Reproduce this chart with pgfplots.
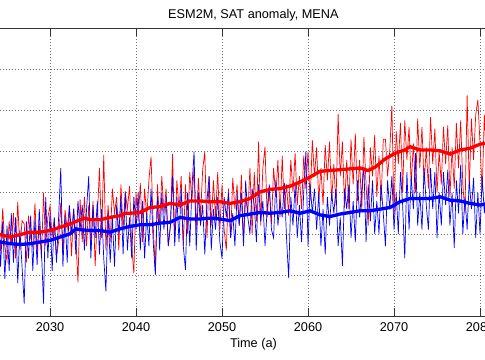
\documentclass[border=0pt]{standalone}
\usepackage{pgfplots}
\pgfplotsset{compat=1.18}
\usepackage{fontspec}
\setmainfont{Liberation Sans}
\newcommand{\lblfont}{\fontsize{12.7bp}{15bp}\selectfont}
\begin{document}
\begin{tikzpicture}
\begin{axis}[
  at={(0,0)}, anchor=south west,
  scale only axis, width=819.6bp, height=287.7bp,
  xmin=2006, xmax=2101.3, ymin=-0.5, ymax=3,
  xtick={2010,2020,...,2100}, ytick={-0.5,0,...,3},
  /pgf/number format/1000 sep={},
  /pgf/number format/assume math mode=true,
  tick align=inside, xtick pos=both, ytick pos=both, major tick length=8bp,
  tick style={black!80, line width=0.6bp},
  axis line style={black!80, line width=0.6bp},
  grid=major, major grid style={black!55, line width=0.5bp, dash pattern=on 0.8bp off 2.2bp},
  every axis title/.style={at={(0.5,1)}, anchor=base, yshift=9.7bp, font=\lblfont},
  title={ESM2M, SAT anomaly, MENA},
  every axis x label/.style={at={(0.5,0)}, anchor=base, yshift=-31.5bp, font=\lblfont},
  xlabel={Time (a)},
  xticklabel style={anchor=base, yshift=-15bp, inner sep=0pt, font=\lblfont},
  yticklabel style={font=\lblfont},
]
% red thin
\addplot[red, line width=0.7bp] coordinates {
(2023.75,0.30)
(2024.00,0.74) (2024.25,0.29) (2024.50,0.81) (2024.75,0.34)
(2025.00,0.17) (2025.25,0.65) (2025.50,0.37) (2025.75,0.75)
(2026.00,0.20) (2026.25,0.89) (2026.50,0.30) (2026.75,0.66)
(2027.00,0.62) (2027.25,0.15) (2027.50,0.72) (2027.75,0.45)
(2028.00,0.34) (2028.25,0.87) (2028.50,0.27) (2028.75,0.62)
(2029.00,0.20) (2029.25,1.00) (2029.50,0.35) (2029.75,0.70)
(2030.00,0.84) (2030.25,0.46) (2030.50,0.69) (2030.75,0.22)
(2031.00,0.40) (2031.25,0.88) (2031.50,0.25) (2031.75,0.79)
(2032.00,0.56) (2032.25,0.83) (2032.50,0.23) (2032.75,0.81)
(2033.00,0.45) (2033.25,-0.09) (2033.50,0.92) (2033.75,0.40)
(2034.00,0.95) (2034.25,0.35) (2034.50,0.85) (2034.75,0.30)
(2035.00,0.90) (2035.25,0.11) (2035.50,0.70) (2035.75,1.30)
(2036.00,0.45) (2036.25,1.46) (2036.50,0.30) (2036.75,0.85)
(2037.00,0.40) (2037.25,1.05) (2037.50,0.75) (2037.75,0.95)
(2038.00,0.30) (2038.25,1.10) (2038.50,0.55) (2038.75,1.02)
(2039.00,0.80) (2039.25,1.08) (2039.50,0.35) (2039.75,0.02)
(2040.00,1.00) (2040.25,0.65) (2040.50,1.12) (2040.75,0.40)
(2041.00,1.05) (2041.25,0.70) (2041.50,1.15) (2041.75,1.44)
(2042.00,0.60) (2042.25,0.05) (2042.50,1.10) (2042.75,0.62)
(2043.00,1.20) (2043.25,0.75) (2043.50,1.05) (2043.75,0.35)
(2044.00,0.60) (2044.25,1.47) (2044.50,0.40) (2044.75,1.15)
(2045.00,0.80) (2045.25,1.20) (2045.50,0.35) (2045.75,1.10)
(2046.00,0.50) (2046.25,1.25) (2046.50,0.90) (2046.75,1.30)
(2047.00,0.55) (2047.25,1.18) (2047.50,0.70) (2047.75,1.28)
(2048.00,1.50) (2048.25,0.45) (2048.50,1.20) (2048.75,0.60)
(2049.00,1.15) (2049.25,0.70) (2049.50,1.25) (2049.75,0.55)
(2050.00,1.10) (2050.25,0.55) (2050.50,0.30) (2050.75,1.05)
(2051.00,0.45) (2051.25,1.18) (2051.50,0.80) (2051.75,1.10)
(2052.00,0.60) (2052.25,1.22) (2052.50,0.42) (2052.75,0.95)
(2053.00,0.75) (2053.25,1.30) (2053.50,0.50) (2053.75,1.25)
(2054.00,0.65) (2054.25,1.62) (2054.50,0.60) (2054.75,1.30)
(2055.00,1.56) (2055.25,0.70) (2055.50,1.05) (2055.75,0.62)
(2056.00,1.30) (2056.25,0.95) (2056.50,1.40) (2056.75,0.70)
(2057.00,1.45) (2057.25,0.80) (2057.50,1.10) (2057.75,0.72)
(2058.00,1.40) (2058.25,1.00) (2058.50,1.48) (2058.75,0.85)
(2059.00,1.20) (2059.25,0.80) (2059.50,1.45) (2059.75,1.05)
(2060.00,1.50) (2060.25,0.90) (2060.50,1.64) (2060.75,1.20)
(2061.00,1.55) (2061.25,0.90) (2061.50,1.30) (2061.75,0.85)
(2062.00,1.58) (2062.25,1.15) (2062.50,1.62) (2062.75,0.90)
(2063.00,1.35) (2063.25,0.85) (2063.50,1.96) (2063.75,1.20)
(2064.00,1.62) (2064.25,0.82) (2064.50,1.40) (2064.75,0.80)
(2065.00,1.65) (2065.25,1.10) (2065.50,1.72) (2065.75,0.90)
(2066.00,1.40) (2066.25,0.78) (2066.50,1.68) (2066.75,1.10)
(2067.00,0.60) (2067.25,1.55) (2067.50,1.20) (2067.75,1.70)
(2068.00,0.95) (2068.25,1.45) (2068.50,0.90) (2068.75,1.65)
(2069.00,1.65) (2069.25,1.20) (2069.50,1.50) (2069.75,2.06)
(2070.00,0.70) (2070.25,1.75) (2070.50,1.35) (2070.75,1.85)
(2071.00,1.00) (2071.25,1.88) (2071.50,1.40) (2071.75,1.80)
(2072.00,1.10) (2072.25,1.60) (2072.50,1.00) (2072.75,1.90)
(2073.00,1.30) (2073.25,1.80) (2073.50,1.10) (2073.75,1.55)
(2074.00,1.05) (2074.25,1.92) (2074.50,1.35) (2074.75,1.78)
(2075.00,1.00) (2075.25,1.50) (2075.50,1.10) (2075.75,1.80)
(2076.00,1.35) (2076.25,1.82) (2076.50,0.95) (2076.75,1.55)
(2077.00,1.05) (2077.25,1.85) (2077.50,1.30) (2077.75,1.88)
(2078.00,1.10) (2078.25,0.75) (2078.50,2.19) (2078.75,1.05)
(2079.00,1.90) (2079.25,1.40) (2079.50,1.95) (2079.75,2.13)
(2080.00,1.60) (2080.25,1.00) (2080.50,1.95) (2080.75,1.40)
(2081.00,1.85)
};
% blue thin
\addplot[blue, line width=0.7bp] coordinates {
(2023.75,0.20)
(2024.00,0.70) (2024.25,0.10) (2024.50,0.65) (2024.75,-0.05)
(2025.00,0.60) (2025.25,0.05) (2025.50,0.75) (2025.75,0.15)
(2026.00,0.70) (2026.25,-0.10) (2026.50,0.55) (2026.75,0.10)
(2027.00,-0.35) (2027.25,0.65) (2027.50,0.20) (2027.75,0.72)
(2028.00,0.05) (2028.25,0.68) (2028.50,0.12) (2028.75,0.80)
(2029.00,0.30) (2029.25,-0.35) (2029.50,0.95) (2029.75,0.20)
(2030.00,0.75) (2030.25,0.05) (2030.50,0.70) (2030.75,0.15)
(2031.00,0.70) (2031.25,1.30) (2031.50,0.10) (2031.75,0.72)
(2032.00,0.15) (2032.25,0.85) (2032.50,0.50) (2032.75,0.80)
(2033.00,0.25) (2033.25,0.90) (2033.50,0.55) (2033.75,0.85)
(2034.00,0.30) (2034.25,0.80) (2034.50,1.20) (2034.75,0.20)
(2035.00,0.85) (2035.25,0.45) (2035.50,0.90) (2035.75,0.25)
(2036.00,0.80) (2036.25,0.20) (2036.50,-0.20) (2036.75,0.75)
(2037.00,0.15) (2037.25,0.70) (2037.50,0.10) (2037.75,0.85)
(2038.00,0.50) (2038.25,0.95) (2038.50,0.25) (2038.75,1.00)
(2039.00,0.30) (2039.25,0.70) (2039.50,0.20) (2039.75,0.95)
(2040.00,0.55) (2040.25,1.00) (2040.50,0.30) (2040.75,0.90)
(2041.00,0.20) (2041.25,0.75) (2041.50,0.35) (2041.75,1.05)
(2042.00,0.40) (2042.25,0.00) (2042.50,0.95) (2042.75,0.30)
(2043.00,1.00) (2043.25,0.55) (2043.50,0.95) (2043.75,0.35)
(2044.00,0.60) (2044.25,1.20) (2044.50,0.35) (2044.75,0.95)
(2045.00,0.40) (2045.25,1.05) (2045.50,0.35) (2045.75,0.06)
(2046.00,1.00) (2046.25,0.35) (2046.50,1.05) (2046.75,1.50)
(2047.00,0.30) (2047.25,1.00) (2047.50,0.60) (2047.75,0.85)
(2048.00,0.25) (2048.25,0.90) (2048.50,1.20) (2048.75,0.30)
(2049.00,0.80) (2049.25,0.55) (2049.50,0.95) (2049.75,0.40)
(2050.00,0.20) (2050.25,0.95) (2050.50,0.70) (2050.75,1.00)
(2051.00,0.45) (2051.25,0.75) (2051.50,0.35) (2051.75,0.98)
(2052.00,0.60) (2052.25,1.00) (2052.50,0.35) (2052.75,1.15)
(2053.00,0.70) (2053.25,0.50) (2053.50,1.05) (2053.75,0.85)
(2054.00,0.40) (2054.25,1.10) (2054.50,0.65) (2054.75,0.90)
(2055.00,0.35) (2055.25,0.80) (2055.50,1.10) (2055.75,0.55)
(2056.00,0.45) (2056.25,1.15) (2056.50,0.60) (2056.75,0.90)
(2057.00,0.70) (2057.25,1.12) (2057.50,0.45) (2057.75,-0.04)
(2058.00,0.95) (2058.25,0.60) (2058.50,1.10) (2058.75,0.45)
(2059.00,0.85) (2059.25,0.40) (2059.50,1.00) (2059.75,1.50)
(2060.00,0.35) (2060.25,1.10) (2060.50,0.75) (2060.75,1.05)
(2061.00,0.55) (2061.25,1.00) (2061.50,0.35) (2061.75,0.80)
(2062.00,0.25) (2062.25,0.95) (2062.50,0.60) (2062.75,1.00)
(2063.00,0.75) (2063.25,1.05) (2063.50,0.35) (2063.75,0.70)
(2064.00,0.11) (2064.25,1.05) (2064.50,0.80) (2064.75,1.10)
(2065.00,0.45) (2065.25,0.90) (2065.50,0.40) (2065.75,1.15)
(2066.00,0.70) (2066.25,1.05) (2066.50,1.31) (2066.75,0.40)
(2067.00,1.10) (2067.25,0.65) (2067.50,1.15) (2067.75,0.50)
(2068.00,0.90) (2068.25,0.50) (2068.50,1.10) (2068.75,0.75)
(2069.00,0.35) (2069.25,1.15) (2069.50,0.80) (2069.75,1.20)
(2070.00,0.55) (2070.25,1.00) (2070.50,0.50) (2070.75,1.25)
(2071.00,0.85) (2071.25,0.20) (2071.50,1.25) (2071.75,0.55)
(2072.00,1.20) (2072.25,0.80) (2072.50,1.48) (2072.75,0.60)
(2073.00,1.00) (2073.25,0.55) (2073.50,1.30) (2073.75,0.85)
(2074.00,0.55) (2074.25,1.30) (2074.50,0.80) (2074.75,1.25)
(2075.00,0.45) (2075.25,1.00) (2075.50,0.60) (2075.75,1.25)
(2076.00,0.85) (2076.25,1.28) (2076.50,0.60) (2076.75,1.00)
(2077.00,0.33) (2077.25,1.15) (2077.50,0.75) (2077.75,1.34)
(2078.00,0.50) (2078.25,0.95) (2078.50,0.55) (2078.75,1.15)
(2079.00,0.80) (2079.25,1.18) (2079.50,0.45) (2079.75,1.00)
(2080.00,0.50) (2080.25,1.20) (2080.50,0.75) (2080.75,1.10)
(2081.00,0.55)
};
% red smoothed
\addplot[red, line width=3.3bp] coordinates {
(2023.5,0.49) (2024.19,0.49) (2025.35,0.46) (2026.52,0.49) (2027.68,0.52)
(2028.84,0.52) (2030.00,0.54) (2031.17,0.58) (2032.33,0.62) (2033.49,0.67)
(2034.07,0.69) (2034.66,0.67) (2035.82,0.67) (2036.98,0.70) (2038.14,0.72)
(2038.73,0.75) (2039.31,0.75) (2040.47,0.76) (2041.63,0.82) (2042.79,0.83)
(2043.96,0.87) (2045.12,0.85) (2046.28,0.90) (2047.44,0.90) (2048.60,0.89)
(2049.77,0.89) (2050.93,0.87) (2052.09,0.89) (2053.26,0.93) (2054.42,1.01)
(2055.58,1.04) (2056.74,1.05) (2057.91,1.08) (2059.07,1.13) (2060.23,1.19)
(2061.40,1.26) (2062.56,1.27) (2063.72,1.28) (2064.88,1.29) (2066.05,1.30)
(2066.98,1.27) (2067.79,1.31) (2068.96,1.41) (2070.12,1.48) (2071.28,1.52)
(2071.86,1.56) (2073.03,1.52) (2074.19,1.52) (2075.35,1.51) (2076.51,1.47)
(2077.68,1.52) (2078.84,1.54) (2080.00,1.59) (2080.58,1.60) (2081.5,1.62)
};
% blue smoothed
\addplot[blue, line width=3.3bp] coordinates {
(2023.5,0.41) (2024.19,0.40) (2025.35,0.38) (2026.52,0.37) (2027.68,0.38)
(2028.84,0.40) (2030.00,0.42) (2031.17,0.46) (2032.33,0.50) (2033.03,0.56)
(2033.49,0.55) (2034.66,0.54) (2035.82,0.54) (2036.98,0.52) (2038.14,0.56)
(2039.31,0.59) (2040.47,0.61) (2041.63,0.61) (2042.79,0.63) (2043.96,0.64)
(2045.12,0.70) (2046.28,0.68) (2047.44,0.68) (2048.60,0.69) (2049.77,0.68)
(2050.93,0.66) (2052.09,0.72) (2053.26,0.74) (2054.42,0.76) (2055.58,0.75)
(2056.74,0.76) (2057.91,0.78) (2059.07,0.75) (2060.23,0.78) (2061.40,0.73)
(2062.56,0.71) (2063.72,0.74) (2064.88,0.76) (2066.05,0.78) (2067.21,0.78)
(2068.37,0.80) (2069.54,0.82) (2070.70,0.89) (2071.86,0.93) (2073.03,0.93)
(2074.19,0.93) (2075.35,0.95) (2076.51,0.91) (2077.68,0.90) (2078.84,0.87)
(2080.00,0.85) (2080.58,0.86) (2081.5,0.86)
};
\end{axis}
\pgfresetboundingbox
\useasboundingbox (156.4bp,-44bp) rectangle (641.4bp,316bp);
\end{tikzpicture}
\end{document}
